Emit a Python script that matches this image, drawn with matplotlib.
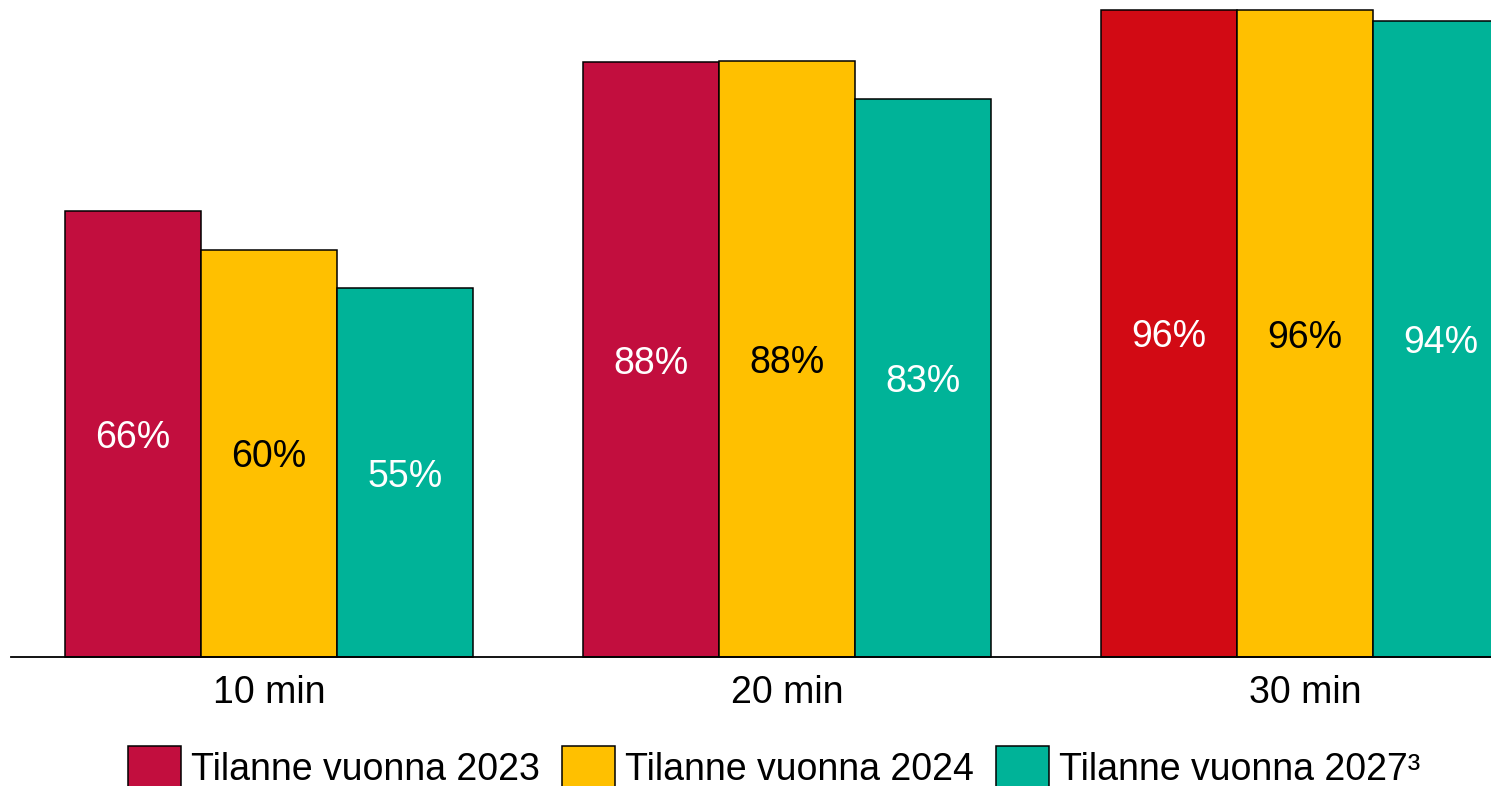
import matplotlib
matplotlib.use("Agg")
import matplotlib.pyplot as plt
import numpy as np

plt.rcParams['font.family'] = ['Liberation Sans', 'DejaVu Sans']

categories = ["10 min", "20 min", "30 min"]
series_names = ["Tilanne vuonna 2023", "Tilanne vuonna 2024", "Tilanne vuonna 2027³"]
v2023 = [66.1, 88.1, 95.9]
v2024 = [60.3, 88.3, 95.8]
v2027 = [54.6, 82.7, 94.2]
series_values = [v2023, v2024, v2027]

colors = ["#C20E3E", "#FFC000", "#00B398"]
bar_colors_2023 = ["#C20E3E", "#C20E3E", "#D20A14"]
text_colors = ["white", "black", "white"]

W, H = 1491, 786
fig = plt.figure(figsize=(W / 100, H / 100), dpi=100)
ax = fig.add_axes([11 / W, (H - 657) / H, (W - 11) / W, 657 / H])

x = np.arange(len(categories))
bw = 136 / 518
offsets = [-bw, 0, bw]
for i, (vals, off) in enumerate(zip(series_values, offsets)):
    cols = bar_colors_2023 if i == 0 else [colors[i]] * len(vals)
    bars = ax.bar(x + off, vals, width=bw, color=cols, edgecolor="black",
                  linewidth=1.1, label=series_names[i], clip_on=False, zorder=2)
    for b, v in zip(bars, vals):
        ax.text(b.get_x() + b.get_width() / 2, v / 2, f"{round(v)}%", ha="center",
                va="center_baseline", fontsize=27, color=text_colors[i], zorder=3)

ax.set_xlim((11 - 269) / 518, (W - 269) / 518)
ax.set_ylim(0, 657 / 6.75)
ax.set_xticks(x)
ax.set_xticklabels(categories, fontsize=27)
ax.tick_params(axis="x", length=0, pad=13)
ax.set_yticks([])
for s in ["top", "left", "right"]:
    ax.spines[s].set_visible(False)
ax.spines["bottom"].set_linewidth(1.3)
ax.spines["bottom"].set_zorder(4)

handles, labels = ax.get_legend_handles_labels()
fig.legend(handles, labels, loc="center", bbox_to_anchor=(774 / W, 1 - 768 / H),
           ncol=3, frameon=False, fontsize=27, handlelength=1.42, handleheight=1.42,
           handletextpad=0.25, columnspacing=0.6, borderpad=0, borderaxespad=0)

fig.savefig("out.png", dpi=100)
